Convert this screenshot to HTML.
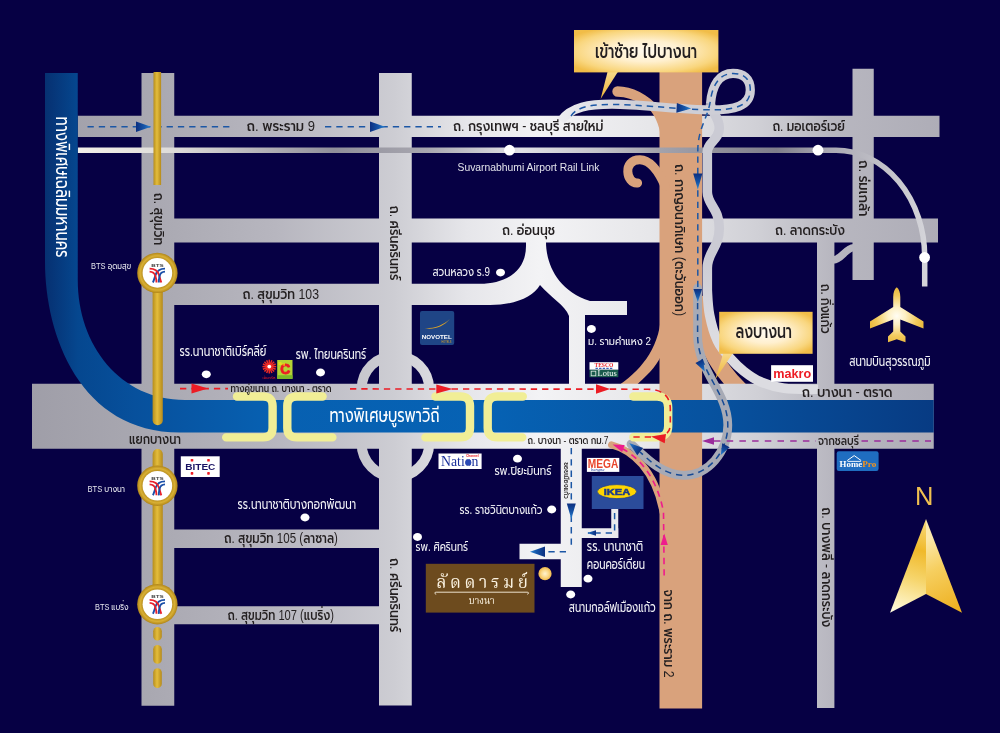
<!DOCTYPE html>
<html lang="th">
<head>
<meta charset="utf-8">
<title>แผนที่ ลัดดารมย์ บางนา</title>
<style>
html,body{margin:0;padding:0;background:#060044;}
body{width:1000px;height:733px;overflow:hidden;}
svg{display:block;will-change:transform;}
</style>
</head>
<body>
<svg width="1000" height="733" viewBox="0 0 1000 733">
<defs>
<linearGradient id="silver" x1="30" y1="0" x2="940" y2="0" gradientUnits="userSpaceOnUse">
<stop offset="0" stop-color="#9f9ea8"/><stop offset="0.13" stop-color="#a9a8b1"/><stop offset="0.27" stop-color="#b7b6bf"/>
<stop offset="0.40" stop-color="#cdcdd3"/><stop offset="0.48" stop-color="#e6e6ea"/><stop offset="0.56" stop-color="#f3f3f5"/><stop offset="0.68" stop-color="#e7e7ea"/>
<stop offset="0.80" stop-color="#d0d0d6"/><stop offset="0.88" stop-color="#b8b7c0"/><stop offset="1" stop-color="#aeadb7"/>
</linearGradient>
<linearGradient id="rail" x1="78" y1="0" x2="930" y2="0" gradientUnits="userSpaceOnUse">
<stop offset="0" stop-color="#f2efe8"/><stop offset="0.12" stop-color="#dcdad8"/><stop offset="0.30" stop-color="#908f9a"/>
<stop offset="0.41" stop-color="#a8a7b0"/><stop offset="0.52" stop-color="#e2e2e6"/><stop offset="0.61" stop-color="#c4c4ca"/><stop offset="0.68" stop-color="#a4a3ac"/>
<stop offset="0.82" stop-color="#7f7e8a"/><stop offset="0.88" stop-color="#a9a8b2"/><stop offset="1" stop-color="#d6d6db"/>
</linearGradient>
<linearGradient id="blueH" x1="45" y1="0" x2="934" y2="0" gradientUnits="userSpaceOnUse">
<stop offset="0" stop-color="#063071"/><stop offset="0.037" stop-color="#05478f"/><stop offset="0.1" stop-color="#07509c"/>
<stop offset="0.25" stop-color="#0760b1"/><stop offset="0.5" stop-color="#0662b4"/><stop offset="0.75" stop-color="#07529f"/><stop offset="1" stop-color="#073b83"/>
</linearGradient>
<linearGradient id="gold" x1="0" y1="0" x2="1" y2="0">
<stop offset="0" stop-color="#b68d1d"/><stop offset="0.45" stop-color="#e4bd3c"/><stop offset="1" stop-color="#b58a1b"/>
</linearGradient>
<radialGradient id="goldring" cx="0.5" cy="0.5" r="0.5">
<stop offset="0.70" stop-color="#b48a1c"/><stop offset="0.85" stop-color="#d9b034"/><stop offset="1" stop-color="#b08519"/>
</radialGradient>
<radialGradient id="callout" cx="0.5" cy="0.5" r="0.62">
<stop offset="0" stop-color="#fffaf0"/><stop offset="0.4" stop-color="#fff0cf"/><stop offset="0.8" stop-color="#f9d67e"/><stop offset="1" stop-color="#f1bd48"/>
</radialGradient>
<linearGradient id="pointer" x1="0" y1="0" x2="0" y2="1">
<stop offset="0" stop-color="#f8d98a"/><stop offset="1" stop-color="#eeb437"/>
</linearGradient>
<radialGradient id="plane" cx="896.7" cy="316" r="29" gradientUnits="userSpaceOnUse">
<stop offset="0" stop-color="#fffdf4"/><stop offset="0.3" stop-color="#fdf0c4"/><stop offset="0.7" stop-color="#f2ca5c"/><stop offset="1" stop-color="#e9b73a"/>
</radialGradient>
<linearGradient id="nleft" x1="926" y1="519" x2="896" y2="612" gradientUnits="userSpaceOnUse">
<stop offset="0" stop-color="#f8dc80"/><stop offset="0.32" stop-color="#f0b92a"/><stop offset="0.62" stop-color="#f6d56c"/><stop offset="1" stop-color="#fffbdc"/>
</linearGradient>
<linearGradient id="nright" x1="924" y1="540" x2="958" y2="610" gradientUnits="userSpaceOnUse">
<stop offset="0" stop-color="#fce9ac"/><stop offset="0.4" stop-color="#f6cf60"/><stop offset="1" stop-color="#eeb020"/>
</linearGradient>
<linearGradient id="arr" x1="0" y1="0" x2="1" y2="0">
<stop offset="0" stop-color="#0c2f80"/><stop offset="0.55" stop-color="#1555a8"/><stop offset="1" stop-color="#2b86d6"/>
</linearGradient>
<linearGradient id="rampg" x1="560" y1="0" x2="640" y2="0" gradientUnits="userSpaceOnUse">
<stop offset="0" stop-color="#ececf0"/><stop offset="1" stop-color="#ceced6"/>
</linearGradient>
<linearGradient id="serp" x1="0" y1="255" x2="0" y2="335" gradientUnits="userSpaceOnUse">
<stop offset="0" stop-color="#cbcbd4"/><stop offset="1" stop-color="#dcdce1"/>
</linearGradient>
<radialGradient id="glowdot" cx="0.5" cy="0.5" r="0.5">
<stop offset="0" stop-color="#fff3d0"/><stop offset="0.55" stop-color="#fbd98a"/><stop offset="1" stop-color="#f0b84a"/>
</radialGradient>
</defs>
<rect x="0" y="0" width="1000" height="733" fill="#060044"/>

<path d="M661,316 C659,350 639,372 616.5,387 L634.5,387 C646,376 655.5,368 661,356 Z" fill="#d9a27c"/>
<path d="M697.5,296 C699,335 715.5,366 741,390.5" fill="none" stroke="#d9a27c" stroke-width="16"/>
<g fill="url(#silver)">
<rect x="141.5" y="73" width="32.75" height="632.75"/>
<rect x="379" y="73" width="32.75" height="632.50"/>
<rect x="77.75" y="115.75" width="861.75" height="21.25"/>
<rect x="174" y="218.5" width="764.00" height="24.00"/>
<rect x="32" y="383.75" width="901.75" height="65.00"/>
<rect x="174" y="529.5" width="205.50" height="18.50"/>
<rect x="174" y="606.25" width="205.50" height="18.00"/>
<rect x="852.5" y="68.75" width="21.25" height="211.25"/>
<rect x="817" y="242" width="17.40" height="466.00"/>
<rect x="560.75" y="448" width="21.00" height="139.00"/>
<rect x="519.5" y="543.75" width="42.00" height="15.50"/>
<rect x="581" y="528.25" width="37.25" height="9.75"/>
<rect x="611.25" y="509" width="7.00" height="29.00"/>
<path d="M174,283.75 L480,283.75 C505,283.75 526,272 526,246 L526,242 L546,242 C546,262 556,290 590,301 L627,301 L627,315 L585,315 L585,384 L569,384 L569,316 C565,305 550,297 540,285 C533,297 515,305 490,305 L174,305 Z"/>
</g>
<rect x="361.6" y="355.4" width="67.6" height="121.6" rx="33.8" ry="33.8" fill="none" stroke="url(#silver)" stroke-width="10"/>
<path d="M833,260 C842,259.5 845,248.2 854,247.6" fill="none" stroke="url(#silver)" stroke-width="7.4"/>
<rect x="659.5" y="60" width="42.6" height="648.5" fill="#d9a27c"/>
<g fill="none" stroke="#d9a27c" stroke-linecap="round">
<path d="M617.5,86.3 C632,86.5 648,94 660.5,109 L660.5,134 C657.5,119 652,109 641,103.5 C633,99.5 626,96.8 617.5,96.7 A5.2,5.2 0 0 1 617.5,86.3 Z" fill="#d9a27c" stroke="none"/>
<path d="M665,186 C658,170 650,160 640,159.7 C631,159.5 627.6,166 627.8,171.5 C628,178 632,183.6 637.6,183" stroke-width="9"/>
<path d="M611.5,444.8 C632,450 655,470 663,512" stroke-width="7"/>
</g>
<path d="M77.75,150.2 L836,150.2 A88.7,106.8 0 0 1 924.7,257 L924.7,286.5" fill="none" stroke="url(#rail)" stroke-width="5.5"/>
<path d="M45,73 L45,262 C45,335 80,432.5 180,432.5 L933.75,432.5 L933.75,400 L185,400 C120,400 77.75,345 77.75,280 L77.75,73 Z" fill="url(#blueH)"/>
<g fill="none" stroke-linecap="butt">
<path d="M710.5,104 C711,112 719.3,117 719.3,128 C719.3,140 707.3,142 707.3,152 L707.3,192 C707.3,205 719.3,208 719.3,228 C719.3,248 707.3,252 707.3,268 L707.3,290 C707.7,297.8 707.9,306.5 709.6,315 C711.3,323.5 714.1,333.8 717.5,341 C720.9,348.2 725.6,353.0 730,358 C734.4,363.0 738.8,367.3 743.8,371.2 C748.8,375.1 753.3,378.6 760,381.5 C766.7,384.4 774.3,387.0 784,388.3 C793.7,389.6 812.3,389.1 818,389.3" stroke="url(#serp)" stroke-width="9.6"/>
<path d="M561,121 C571,106.5 590,104.2 612,104.2 C640,104.2 668,108.6 706,109.8 C735,110.6 750.3,106 750.3,90 C750.3,78 743,73.3 733,73.3 C720,73.3 712,84 710.5,104" stroke="url(#rampg)" stroke-width="9.2"/>
<path d="M697.6,288 L697.6,335 C697.6,372 727.8,392 727.8,425 C727.8,452 708,475.3 684,475.3 C662,475.3 646,458 631,444" stroke="#a7aab5" stroke-width="8.8" stroke-linecap="round"/>
</g>
<g fill="none" stroke="#f1ee96" stroke-width="8.4" stroke-linecap="round" stroke-linejoin="round">
<path d="M237,396.5 L263,396.5 Q272.6,396.5 272.6,406 L272.6,428 Q272.6,437.4 263,437.4 L226.2,437.4"/>
<path d="M322.6,396.5 L297,396.5 Q287.3,396.5 287.3,406 L287.3,428 Q287.3,437.4 297,437.4 L332.4,437.4"/>
<path d="M435.5,396.5 L460.5,396.5 Q470,396.5 470,406 L470,428 Q470,437.4 460.5,437.4 L425.4,437.4"/>
<path d="M522.8,396.5 L497.4,396.5 Q487.7,396.5 487.7,406 L487.7,428 Q487.7,437.4 497.4,437.4 L522.3,437.4"/>
<path d="M633.4,396.5 L657,396.5 Q668.2,396.5 668.2,407.5 L668.2,426 Q668.2,437.2 657,437.2 L633.4,437.2"/>
</g>
<g fill="none" stroke="#1c57a5" stroke-width="1.5" stroke-dasharray="6.3 5">
<path d="M87.5,126.8 L232.5,126.8"/>
<path d="M325,126.8 L441,126.8"/>
<path d="M571,116 C577,107 590,104.4 612,104.4 C640,104.4 668,108.6 706,109.8 C735,110.6 750.3,106 750.3,90 C750.3,78 743,73.5 733,73.5 C720,73.5 713,84 710.5,100 C708,118 698,128 697.8,150 L697.8,300"/>
<path d="M697.6,303 L697.6,335 C697.6,372 727.8,392 727.8,425 C727.8,452 708,475.3 684,475.3 C664,475.3 650,461 640,452" stroke="#164a95"/>
<path d="M571.3,448 L571.3,546"/>
<path d="M566,551.8 L545,551.8"/>
<path d="M614.6,513 L614.6,533 L588,533"/>
</g>
<path transform="translate(151.0,126.8) rotate(0)" d="M0,0 L-15,-5.25 L-15.0,0 L-15,5.25 Z" fill="url(#arr)"/>
<path transform="translate(385.0,126.8) rotate(0)" d="M0,0 L-15,-5.25 L-15.0,0 L-15,5.25 Z" fill="url(#arr)"/>
<path transform="translate(691.2,108.6) rotate(3)" d="M0,0 L-14.6,-4.9 L-14.6,0 L-14.6,4.9 Z" fill="url(#arr)"/>
<path transform="translate(697.8,189.5) rotate(90)" d="M0,0 L-16,-4.6 L-16.0,0 L-16,4.6 Z" fill="url(#arr)"/>
<path transform="translate(697.8,302.0) rotate(90)" d="M0,0 L-13,-4.3 L-13.0,0 L-13,4.3 Z" fill="url(#arr)"/>
<path transform="translate(704.8,371.5) rotate(62)" d="M0,0 L-12,-4.25 L-12.0,0 L-12,4.25 Z" fill="url(#arr)"/>
<path transform="translate(720.8,455.0) rotate(118)" d="M0,0 L-11,-4.25 L-11.0,0 L-11,4.25 Z" fill="url(#arr)"/>
<path transform="translate(629.2,443.0) rotate(218)" d="M0,0 L-14,-4.75 L-14.0,0 L-14,4.75 Z" fill="url(#arr)"/>
<path transform="translate(571.3,519.0) rotate(90)" d="M0,0 L-15.5,-4.5 L-15.5,0 L-15.5,4.5 Z" fill="url(#arr)"/>
<path transform="translate(530.0,551.8) rotate(180)" d="M0,0 L-15,-5.25 L-15.0,0 L-15,5.25 Z" fill="url(#arr)"/>
<path transform="translate(587.0,533.0) rotate(180)" d="M0,0 L-9,-2.75 L-9.0,0 L-9,2.75 Z" fill="url(#arr)"/>
<g fill="none" stroke="#ec1c24" stroke-width="1.6" stroke-dasharray="6.3 5">
<path d="M180,388.6 L228,388.6"/>
<path d="M350,388.9 L648,389.2 Q670.3,390 670.3,409 L670.3,424 Q670.3,433 664,434.5"/>
<path d="M651,437 L633,437"/>
</g>
<path transform="translate(208.0,388.6) rotate(0)" d="M0,0 L-16.5,-5.0 L-16.5,0 L-16.5,5.0 Z" fill="#ec1c24"/>
<path transform="translate(452.7,389.0) rotate(0)" d="M0,0 L-16.4,-4.6 L-16.4,0 L-16.4,4.6 Z" fill="#ec1c24"/>
<path transform="translate(610.2,389.0) rotate(0)" d="M0,0 L-14.2,-4.75 L-14.2,0 L-14.2,4.75 Z" fill="#ec1c24"/>
<path transform="translate(651.0,436.6) rotate(188)" d="M0,0 L-14.5,-4.75 L-14.5,0 L-14.5,4.75 Z" fill="#ec1c24"/>
<g fill="none" stroke="#9a2c9c" stroke-width="1.7" stroke-dasharray="6.5 6.2">
<path d="M714,441 L816,441"/>
<path d="M861.5,441 L931,441"/>
</g>
<path transform="translate(702.0,441.0) rotate(180)" d="M0,0 L-12,-3.8 L-12.0,0 L-12,3.8 Z" fill="#9a2c9c"/>
<path d="M622,448.5 C640,458 657,478 663.5,512 L664.2,580" fill="none" stroke="#ee1c8c" stroke-width="1.6" stroke-dasharray="6.3 5"/>
<path transform="translate(612.6,444.6) rotate(200)" d="M0,0 L-11.5,-3.75 L-11.5,0 L-11.5,3.75 Z" fill="#ee1c8c"/>
<path transform="translate(664.2,533.5) rotate(270)" d="M0,0 L-11.5,-3.6 L-11.5,0 L-11.5,3.6 Z" fill="#ee1c8c"/>
<rect x="153.5" y="72" width="7.6" height="113" fill="url(#gold)"/>
<rect x="152.6" y="285" width="10.2" height="140.3" rx="5.1" fill="url(#gold)"/>
<rect x="152.6" y="449" width="10.2" height="145" rx="5.1" fill="url(#gold)"/>
<rect x="153.2" y="627" width="8.6" height="13.5" rx="4.3" fill="url(#gold)"/>
<rect x="153.2" y="645" width="8.6" height="18.8" rx="4.3" fill="url(#gold)"/>
<rect x="153.2" y="668.3" width="8.6" height="19.7" rx="4.3" fill="url(#gold)"/>
<g transform="translate(157.4,272.9)">
<circle r="20.2" fill="url(#goldring)"/>
<circle r="14.8" fill="#ffffff"/>
<text x="0" y="-6.2" text-anchor="middle" font-family="'Liberation Sans',sans-serif" font-size="4" font-weight="700" fill="#444" textLength="12.5" lengthAdjust="spacingAndGlyphs">BTS</text>
<g fill="none" stroke-width="1.9" stroke-linecap="butt">
<path d="M7.6,-4.3 Q0.2,-4.3 -1.8,2 T-4.5,9.6" stroke="#1b4fa8"/>
<path d="M-7.8,-4.3 Q-0.2,-4.3 1.6,2 T3.9,9.6" stroke="#e8212b"/>
<path d="M7.6,-1.3 Q3.2,-1.1 2.2,3 T1.5,9.6" stroke="#1b4fa8"/>
<path d="M-7.8,-1.3 Q-3.2,-1.1 -2,3 T-0.9,9.6" stroke="#e8212b"/>
</g></g>
<g transform="translate(157.4,485.7)">
<circle r="20.2" fill="url(#goldring)"/>
<circle r="14.8" fill="#ffffff"/>
<text x="0" y="-6.2" text-anchor="middle" font-family="'Liberation Sans',sans-serif" font-size="4" font-weight="700" fill="#444" textLength="12.5" lengthAdjust="spacingAndGlyphs">BTS</text>
<g fill="none" stroke-width="1.9" stroke-linecap="butt">
<path d="M7.6,-4.3 Q0.2,-4.3 -1.8,2 T-4.5,9.6" stroke="#1b4fa8"/>
<path d="M-7.8,-4.3 Q-0.2,-4.3 1.6,2 T3.9,9.6" stroke="#e8212b"/>
<path d="M7.6,-1.3 Q3.2,-1.1 2.2,3 T1.5,9.6" stroke="#1b4fa8"/>
<path d="M-7.8,-1.3 Q-3.2,-1.1 -2,3 T-0.9,9.6" stroke="#e8212b"/>
</g></g>
<g transform="translate(157.4,604.2)">
<circle r="20.2" fill="url(#goldring)"/>
<circle r="14.8" fill="#ffffff"/>
<text x="0" y="-6.2" text-anchor="middle" font-family="'Liberation Sans',sans-serif" font-size="4" font-weight="700" fill="#444" textLength="12.5" lengthAdjust="spacingAndGlyphs">BTS</text>
<g fill="none" stroke-width="1.9" stroke-linecap="butt">
<path d="M7.6,-4.3 Q0.2,-4.3 -1.8,2 T-4.5,9.6" stroke="#1b4fa8"/>
<path d="M-7.8,-4.3 Q-0.2,-4.3 1.6,2 T3.9,9.6" stroke="#e8212b"/>
<path d="M7.6,-1.3 Q3.2,-1.1 2.2,3 T1.5,9.6" stroke="#1b4fa8"/>
<path d="M-7.8,-1.3 Q-3.2,-1.1 -2,3 T-0.9,9.6" stroke="#e8212b"/>
</g></g>
<g fill="#ffffff">
<ellipse cx="206.3" cy="374.3" rx="4.5" ry="3.9"/>
<ellipse cx="320.5" cy="372.5" rx="4.5" ry="3.9"/>
<ellipse cx="500.5" cy="272.6" rx="4.5" ry="3.9"/>
<ellipse cx="591.4" cy="329" rx="4.5" ry="3.9"/>
<ellipse cx="305" cy="517.5" rx="4.5" ry="3.9"/>
<ellipse cx="417.5" cy="537" rx="4.5" ry="3.9"/>
<ellipse cx="517.5" cy="458.7" rx="4.5" ry="3.9"/>
<ellipse cx="551.7" cy="509.5" rx="4.5" ry="3.9"/>
<ellipse cx="588" cy="578.7" rx="4.5" ry="3.9"/>
<ellipse cx="570.7" cy="594.5" rx="4.5" ry="3.9"/>
<circle cx="509.5" cy="150.2" r="5.4"/>
<circle cx="818" cy="150.2" r="5.4"/>
<circle cx="924.6" cy="257.5" r="5.4"/>
</g>
<circle cx="545" cy="573.7" r="6.6" fill="url(#glowdot)"/>
<path d="M607.5,72 L617.8,72 L600.6,99 Z" fill="url(#pointer)"/>
<rect x="574" y="30" width="144.4" height="42.4" fill="url(#callout)"/>
<path d="M723.3,353.2 L732.8,353.2 L715.3,379.3 Z" fill="url(#pointer)"/>
<rect x="719.2" y="311.8" width="93.4" height="42" fill="url(#callout)"/>
<text x="595.0" y="57.5" font-family="'Liberation Sans','Prompt','Kanit','Noto Sans Thai','Loma',sans-serif" font-size="19" font-weight="500" fill="#231f20" textLength="102.0" lengthAdjust="spacingAndGlyphs">เข้าซ้าย ไปบางนา</text>
<text x="735.5" y="338.3" font-family="'Liberation Sans','Prompt','Kanit','Noto Sans Thai','Loma',sans-serif" font-size="19" font-weight="500" fill="#231f20" textLength="56.5" lengthAdjust="spacingAndGlyphs">ลงบางนา</text>
<path d="M896.75,287.3 C894.6,288.8 893.2,292.5 893.2,297 L893.2,307 L870,321.4 L870,328.4 L893.2,319.4 L893.2,331.4 L888,336.6 L888,342.2 L896.75,339.2 L905.5,342.2 L905.5,336.6 L900.3,331.4 L900.3,319.4 L923.5,328.4 L923.5,321.4 L900.3,307 L900.3,297 C900.3,292.5 898.9,288.8 896.75,287.3 Z" fill="url(#plane)"/>
<polygon points="926,519 890,612.8 926,594" fill="url(#nleft)"/>
<polygon points="926,519 962,612.8 926,594" fill="url(#nright)"/>
<text x="924.3" y="505" text-anchor="middle" font-family="'Liberation Sans',sans-serif" font-size="25.5" fill="#f0c050">N</text>
<rect x="425.8" y="563.8" width="108.7" height="48.8" fill="#6d4b1e"/>
<text x="436.3" y="588.4" font-family="'Liberation Serif','Noto Serif Thai','Trirong','Taviraj',serif" font-size="17" letter-spacing="3.6" fill="#fbf3e2">ลัดดารมย์</text>
<path d="M436.2,594.2 C434.2,593.8 434.4,592 436.2,592.2 L527.2,592.2 C529,592 529.2,593.8 527.2,594.2" fill="none" stroke="#fbf3e2" stroke-width="0.9"/>
<text x="468.8" y="603.6" font-family="'Liberation Serif','Noto Serif Thai','Trirong','Taviraj',serif" font-size="10" fill="#fbf3e2" textLength="25.8" lengthAdjust="spacingAndGlyphs">บางนา</text>
<rect x="420" y="311" width="34.2" height="34" rx="2" fill="#1f4586"/>
<path d="M424.4,328.2 C434,328.6 443,325.5 449.8,319 C443.5,326.8 434,330 424.4,328.2 Z" fill="#e0a526"/>
<text x="421.8" y="339.3" font-family="'Liberation Sans',sans-serif" font-size="5.6" font-weight="700" fill="#ffffff" textLength="30" lengthAdjust="spacingAndGlyphs">NOVOTEL</text>
<text x="441.5" y="342.8" font-family="'Liberation Sans',sans-serif" font-size="2.6" fill="#e0a526" textLength="10" lengthAdjust="spacingAndGlyphs">HOTELS</text>
<g transform="translate(269.3,366.6)" fill="#ef2b24">
<rect x="-0.75" y="-6.9" width="1.5" height="4.6" transform="rotate(0.0)"/>
<rect x="-0.75" y="-6.9" width="1.5" height="4.6" transform="rotate(22.5)"/>
<rect x="-0.75" y="-6.9" width="1.5" height="4.6" transform="rotate(45.0)"/>
<rect x="-0.75" y="-6.9" width="1.5" height="4.6" transform="rotate(67.5)"/>
<rect x="-0.75" y="-6.9" width="1.5" height="4.6" transform="rotate(90.0)"/>
<rect x="-0.75" y="-6.9" width="1.5" height="4.6" transform="rotate(112.5)"/>
<rect x="-0.75" y="-6.9" width="1.5" height="4.6" transform="rotate(135.0)"/>
<rect x="-0.75" y="-6.9" width="1.5" height="4.6" transform="rotate(157.5)"/>
<rect x="-0.75" y="-6.9" width="1.5" height="4.6" transform="rotate(180.0)"/>
<rect x="-0.75" y="-6.9" width="1.5" height="4.6" transform="rotate(202.5)"/>
<rect x="-0.75" y="-6.9" width="1.5" height="4.6" transform="rotate(225.0)"/>
<rect x="-0.75" y="-6.9" width="1.5" height="4.6" transform="rotate(247.5)"/>
<rect x="-0.75" y="-6.9" width="1.5" height="4.6" transform="rotate(270.0)"/>
<rect x="-0.75" y="-6.9" width="1.5" height="4.6" transform="rotate(292.5)"/>
<rect x="-0.75" y="-6.9" width="1.5" height="4.6" transform="rotate(315.0)"/>
<rect x="-0.75" y="-6.9" width="1.5" height="4.6" transform="rotate(337.5)"/>
<circle r="3.6"/><circle r="1.9" fill="#ffffff"/></g>
<text x="262.6" y="378.6" font-family="'Liberation Sans','Prompt','Kanit','Noto Sans Thai','Loma',sans-serif" font-size="3.4" fill="#ed1c24" textLength="12.8" lengthAdjust="spacingAndGlyphs">เซ็นทรัล</text>
<rect x="277.2" y="360" width="15.3" height="18.8" fill="#b4d334"/>
<rect x="277.2" y="375.2" width="15.3" height="3.6" fill="#7ab829"/>
<text x="280.2" y="374.3" font-family="'Liberation Sans',sans-serif" font-size="14" font-weight="700" fill="#ed1c24" stroke="#ed1c24" stroke-width="0.9" textLength="10" lengthAdjust="spacingAndGlyphs">C</text>
<text x="278.4" y="364.6" font-family="'Liberation Sans',sans-serif" font-size="4" font-weight="700" fill="#f7e017" textLength="6.5" lengthAdjust="spacingAndGlyphs">Big</text>
<rect x="180.8" y="456.3" width="38.9" height="20.7" fill="#ffffff"/>
<text x="185.2" y="470.2" font-family="'Liberation Sans',sans-serif" font-size="8.6" font-weight="700" fill="#1b1464" textLength="30.2" lengthAdjust="spacingAndGlyphs">BITEC</text>
<rect x="190.7" y="459.0" width="2.6" height="2.6" rx="0.6" fill="#ed1c24"/>
<rect x="207.2" y="459.0" width="2.6" height="2.6" rx="0.6" fill="#ed1c24"/>
<rect x="190.7" y="472.09999999999997" width="2.6" height="2.6" rx="0.6" fill="#ed1c24"/>
<rect x="207.2" y="472.09999999999997" width="2.6" height="2.6" rx="0.6" fill="#ed1c24"/>
<rect x="438.5" y="453.5" width="43.1" height="15.5" fill="#ffffff"/>
<text x="441" y="465.6" font-family="'Liberation Serif',serif" font-size="14" fill="#1a2f9a" textLength="37.5" lengthAdjust="spacingAndGlyphs">Nation</text>
<circle cx="468.4" cy="462.4" r="2.9" fill="#2a49b5"/>
<text x="466" y="457.4" font-family="'Liberation Sans',sans-serif" font-size="3" font-weight="700" fill="#e8222b" textLength="12.6" lengthAdjust="spacingAndGlyphs">Channel</text>
<rect x="589.5" y="362.2" width="28.8" height="7.6" fill="#ffffff"/>
<rect x="589.5" y="369.8" width="28.8" height="7.4" fill="#1b5b4d"/>
<text x="594.4" y="366.9" font-family="'Liberation Serif',serif" font-size="5.2" font-weight="700" fill="#e8222b" textLength="19" lengthAdjust="spacingAndGlyphs">TESCO</text>
<path d="M595.5,368.4 L613,368.4" stroke="#3b5fb5" stroke-width="1.2" stroke-dasharray="2.4 1.2" fill="none"/>
<rect x="591.2" y="371.2" width="4.6" height="4.6" fill="none" stroke="#dfe9e4" stroke-width="0.8"/>
<text x="597.6" y="376.2" font-family="'Liberation Serif',serif" font-size="7.6" fill="#ffffff" textLength="19.2" lengthAdjust="spacingAndGlyphs">Lotus</text>
<rect x="771.1" y="365.2" width="41.9" height="16.6" fill="#ffffff"/>
<text x="773.2" y="378" font-family="'Liberation Sans',sans-serif" font-size="13.4" font-weight="700" fill="#ed1c24" textLength="38" lengthAdjust="spacingAndGlyphs">makro</text>
<rect x="586.9" y="457.9" width="32.4" height="14" fill="#ffffff"/>
<text x="587.8" y="468.2" font-family="'Liberation Sans',sans-serif" font-size="13.4" font-weight="700" fill="#e8452c" textLength="30.5" lengthAdjust="spacingAndGlyphs">MEGA</text>
<text x="591" y="471" font-family="'Liberation Serif',serif" font-size="3.6" font-style="italic" fill="#2b4aa0" textLength="13.5" lengthAdjust="spacingAndGlyphs">bangna</text>
<rect x="591.8" y="476" width="51.7" height="33" fill="#2b4c9b"/>
<ellipse cx="616.9" cy="491.6" rx="19.6" ry="7" fill="#ffd500" stroke="#1d3c8c" stroke-width="0.7"/>
<text x="603.8" y="494.6" font-family="'Liberation Sans',sans-serif" font-size="8.4" font-weight="700" fill="#1d3c8c" stroke="#1d3c8c" stroke-width="0.5" textLength="26.4" lengthAdjust="spacingAndGlyphs">IKEA</text>
<rect x="836.7" y="451.2" width="41.9" height="19.8" rx="2.2" fill="#1f6dc0"/>
<path d="M847.2,460.6 L854.2,455.6 L861.2,460.6" fill="none" stroke="#ffffff" stroke-width="1"/>
<path d="M847.6,461.4 L860.8,461.4" fill="none" stroke="#ffffff" stroke-width="0.9"/>
<text x="839.6" y="467" font-family="'Liberation Serif',serif" font-size="7.4" font-weight="700" fill="#ffffff" textLength="22.6" lengthAdjust="spacingAndGlyphs">Home</text>
<text x="862.3" y="467" font-family="'Liberation Serif',serif" font-size="7.4" font-weight="700" fill="#f7941d" textLength="14" lengthAdjust="spacingAndGlyphs">Pro</text>
<text x="246.5" y="130.9" font-family="'Liberation Sans','Prompt','Kanit','Noto Sans Thai','Loma',sans-serif" font-size="15" font-weight="500" fill="#231f20" textLength="68.5" lengthAdjust="spacingAndGlyphs">ถ. พระราม 9</text>
<text x="453.0" y="130.9" font-family="'Liberation Sans','Prompt','Kanit','Noto Sans Thai','Loma',sans-serif" font-size="15" font-weight="500" fill="#231f20" textLength="150.5" lengthAdjust="spacingAndGlyphs">ถ. กรุงเทพฯ - ชลบุรี สายใหม่</text>
<text x="772.4" y="130.9" font-family="'Liberation Sans','Prompt','Kanit','Noto Sans Thai','Loma',sans-serif" font-size="15" font-weight="500" fill="#231f20" textLength="72.6" lengthAdjust="spacingAndGlyphs">ถ. มอเตอร์เวย์</text>
<text x="502.0" y="235.1" font-family="'Liberation Sans','Prompt','Kanit','Noto Sans Thai','Loma',sans-serif" font-size="15" font-weight="500" fill="#231f20" textLength="53.0" lengthAdjust="spacingAndGlyphs">ถ. อ่อนนุช</text>
<text x="775.0" y="235.1" font-family="'Liberation Sans','Prompt','Kanit','Noto Sans Thai','Loma',sans-serif" font-size="15" font-weight="500" fill="#231f20" textLength="70.0" lengthAdjust="spacingAndGlyphs">ถ. ลาดกระบัง</text>
<text x="242.5" y="298.9" font-family="'Liberation Sans','Prompt','Kanit','Noto Sans Thai','Loma',sans-serif" font-size="15" font-weight="500" fill="#231f20" textLength="76.5" lengthAdjust="spacingAndGlyphs">ถ. สุขุมวิท 103</text>
<text x="224.1" y="543.1" font-family="'Liberation Sans','Prompt','Kanit','Noto Sans Thai','Loma',sans-serif" font-size="14.5" font-weight="500" fill="#231f20" textLength="113.8" lengthAdjust="spacingAndGlyphs">ถ. สุขุมวิท 105 (ลาซาล)</text>
<text x="227.5" y="619.6" font-family="'Liberation Sans','Prompt','Kanit','Noto Sans Thai','Loma',sans-serif" font-size="14.5" font-weight="500" fill="#231f20" textLength="106.5" lengthAdjust="spacingAndGlyphs">ถ. สุขุมวิท 107 (แบริ่ง)</text>
<text x="801.8" y="396.7" font-family="'Liberation Sans','Prompt','Kanit','Noto Sans Thai','Loma',sans-serif" font-size="15" font-weight="500" fill="#231f20" textLength="90.7" lengthAdjust="spacingAndGlyphs">ถ. บางนา - ตราด</text>
<text x="818.0" y="444.8" font-family="'Liberation Sans','Prompt','Kanit','Noto Sans Thai','Loma',sans-serif" font-size="12.5" font-weight="500" fill="#231f20" textLength="41.0" lengthAdjust="spacingAndGlyphs">จากชลบุรี</text>
<text x="129.0" y="444.0" font-family="'Liberation Sans','Prompt','Kanit','Noto Sans Thai','Loma',sans-serif" font-size="14.5" font-weight="500" fill="#231f20" textLength="52.0" lengthAdjust="spacingAndGlyphs">แยกบางนา</text>
<text x="230.4" y="391.8" font-family="'Liberation Sans','Prompt','Kanit','Noto Sans Thai','Loma',sans-serif" font-size="11.5" font-weight="500" fill="#231f20" textLength="101.0" lengthAdjust="spacingAndGlyphs">ทางคู่ขนาน ถ. บางนา - ตราด</text>
<text x="527.6" y="444.1" font-family="'Liberation Sans','Prompt','Kanit','Noto Sans Thai','Loma',sans-serif" font-size="11.5" font-weight="500" fill="#231f20" textLength="81.0" lengthAdjust="spacingAndGlyphs">ถ. บางนา - ตราด กม.7</text>
<text transform="translate(153.7,192.8) rotate(90)" font-family="'Liberation Sans','Prompt','Kanit','Noto Sans Thai','Loma',sans-serif" font-size="15" font-weight="500" fill="#231f20" textLength="52.5" lengthAdjust="spacingAndGlyphs">ถ. สุขุมวิท</text>
<text transform="translate(390.4,205.5) rotate(90)" font-family="'Liberation Sans','Prompt','Kanit','Noto Sans Thai','Loma',sans-serif" font-size="14" font-weight="500" fill="#231f20" textLength="75.0" lengthAdjust="spacingAndGlyphs">ถ. ศรีนครินทร์</text>
<text transform="translate(390.4,558.0) rotate(90)" font-family="'Liberation Sans','Prompt','Kanit','Noto Sans Thai','Loma',sans-serif" font-size="14" font-weight="500" fill="#231f20" textLength="74.2" lengthAdjust="spacingAndGlyphs">ถ. ศรีนครินทร์</text>
<text transform="translate(675.1,164.0) rotate(90)" font-family="'Liberation Sans','Prompt','Kanit','Noto Sans Thai','Loma',sans-serif" font-size="14.5" font-weight="500" fill="#231f20" textLength="152.0" lengthAdjust="spacingAndGlyphs">ถ. กาญจนาภิเษก (ตะวันออก)</text>
<text transform="translate(858.9,160.0) rotate(90)" font-family="'Liberation Sans','Prompt','Kanit','Noto Sans Thai','Loma',sans-serif" font-size="14.5" font-weight="500" fill="#231f20" textLength="56.5" lengthAdjust="spacingAndGlyphs">ถ. ร่มเกล้า</text>
<text transform="translate(821.2,283.8) rotate(90)" font-family="'Liberation Sans','Prompt','Kanit','Noto Sans Thai','Loma',sans-serif" font-size="14.5" font-weight="500" fill="#231f20" textLength="50.0" lengthAdjust="spacingAndGlyphs">ถ. กิ่งแก้ว</text>
<text transform="translate(821.6,507.3) rotate(90)" font-family="'Liberation Sans','Prompt','Kanit','Noto Sans Thai','Loma',sans-serif" font-size="14.5" font-weight="500" fill="#231f20" textLength="120.0" lengthAdjust="spacingAndGlyphs">ถ. บางพลี - ลาดกระบัง</text>
<text transform="translate(664.0,589.5) rotate(90)" font-family="'Liberation Sans','Prompt','Kanit','Noto Sans Thai','Loma',sans-serif" font-size="14.5" font-weight="500" fill="#231f20" textLength="88.0" lengthAdjust="spacingAndGlyphs">จาก ถ. พระราม 2</text>
<text transform="translate(564.1,462.3) rotate(90)" font-family="'Liberation Sans','Prompt','Kanit','Noto Sans Thai','Loma',sans-serif" font-size="7" font-weight="500" fill="#231f20" textLength="36.5" lengthAdjust="spacingAndGlyphs">ซอยเมืองแก้ว</text>
<text transform="translate(55.6,116.5) rotate(90)" font-family="'Liberation Sans','Prompt','Kanit','Noto Sans Thai','Loma',sans-serif" font-size="20" font-weight="400" fill="#ffffff" textLength="141.0" lengthAdjust="spacingAndGlyphs">ทางพิเศษเฉลิมมหานคร</text>
<text x="329.5" y="421.9" font-family="'Liberation Sans','Prompt','Kanit','Noto Sans Thai','Loma',sans-serif" font-size="19" font-weight="400" fill="#ffffff" textLength="110.0" lengthAdjust="spacingAndGlyphs">ทางพิเศษบูรพาวิถี</text>
<text x="179.4" y="355.9" font-family="'Liberation Sans','Prompt','Kanit','Noto Sans Thai','Loma',sans-serif" font-size="13.5" font-weight="400" fill="#f4f4f8" textLength="87.0" lengthAdjust="spacingAndGlyphs">รร.นานาชาติเบิร์คลีย์</text>
<text x="295.7" y="359.4" font-family="'Liberation Sans','Prompt','Kanit','Noto Sans Thai','Loma',sans-serif" font-size="13.5" font-weight="400" fill="#f4f4f8" textLength="70.5" lengthAdjust="spacingAndGlyphs">รพ. ไทยนครินทร์</text>
<text x="432.5" y="276.4" font-family="'Liberation Sans','Prompt','Kanit','Noto Sans Thai','Loma',sans-serif" font-size="12.5" font-weight="400" fill="#f4f4f8" textLength="57.5" lengthAdjust="spacingAndGlyphs">สวนหลวง ร.9</text>
<text x="588.0" y="344.6" font-family="'Liberation Sans','Prompt','Kanit','Noto Sans Thai','Loma',sans-serif" font-size="11.5" font-weight="400" fill="#f4f4f8" textLength="63.0" lengthAdjust="spacingAndGlyphs">ม. รามคำแหง 2</text>
<text x="237.5" y="508.7" font-family="'Liberation Sans','Prompt','Kanit','Noto Sans Thai','Loma',sans-serif" font-size="13.5" font-weight="400" fill="#f4f4f8" textLength="118.5" lengthAdjust="spacingAndGlyphs">รร.นานาชาติบางกอกพัฒนา</text>
<text x="415.5" y="550.8" font-family="'Liberation Sans','Prompt','Kanit','Noto Sans Thai','Loma',sans-serif" font-size="12" font-weight="400" fill="#f4f4f8" textLength="52.5" lengthAdjust="spacingAndGlyphs">รพ. ศิครินทร์</text>
<text x="459.5" y="513.6" font-family="'Liberation Sans','Prompt','Kanit','Noto Sans Thai','Loma',sans-serif" font-size="12" font-weight="400" fill="#f4f4f8" textLength="83.0" lengthAdjust="spacingAndGlyphs">รร. ราชวินิตบางแก้ว</text>
<text x="494.4" y="475.4" font-family="'Liberation Sans','Prompt','Kanit','Noto Sans Thai','Loma',sans-serif" font-size="12.5" font-weight="400" fill="#f4f4f8" textLength="57.0" lengthAdjust="spacingAndGlyphs">รพ.ปิยะมินทร์</text>
<text x="586.8" y="551.2" font-family="'Liberation Sans','Prompt','Kanit','Noto Sans Thai','Loma',sans-serif" font-size="13.5" font-weight="400" fill="#f4f4f8" textLength="56.3" lengthAdjust="spacingAndGlyphs">รร. นานาชาติ</text>
<text x="586.8" y="569.2" font-family="'Liberation Sans','Prompt','Kanit','Noto Sans Thai','Loma',sans-serif" font-size="13.5" font-weight="400" fill="#f4f4f8" textLength="58.3" lengthAdjust="spacingAndGlyphs">คอนคอร์เดียน</text>
<text x="568.8" y="611.6" font-family="'Liberation Sans','Prompt','Kanit','Noto Sans Thai','Loma',sans-serif" font-size="13.5" font-weight="400" fill="#f4f4f8" textLength="86.8" lengthAdjust="spacingAndGlyphs">สนามกอล์ฟเมืองแก้ว</text>
<text x="849.2" y="365.9" font-family="'Liberation Sans','Prompt','Kanit','Noto Sans Thai','Loma',sans-serif" font-size="13.5" font-weight="400" fill="#f4f4f8" textLength="81.3" lengthAdjust="spacingAndGlyphs">สนามบินสุวรรณภูมิ</text>
<text x="457.5" y="170.5" font-family="'Liberation Sans','Prompt','Kanit','Noto Sans Thai','Loma',sans-serif" font-size="10.3" font-weight="400" fill="#e4e4ec" textLength="142.0" lengthAdjust="spacingAndGlyphs">Suvarnabhumi Airport Rail Link</text>
<text x="91.0" y="268.8" font-family="'Liberation Sans','Prompt','Kanit','Noto Sans Thai','Loma',sans-serif" font-size="9.3" font-weight="400" fill="#e4e4ec" textLength="40.0" lengthAdjust="spacingAndGlyphs">BTS อุดมสุข</text>
<text x="87.5" y="492.2" font-family="'Liberation Sans','Prompt','Kanit','Noto Sans Thai','Loma',sans-serif" font-size="9.3" font-weight="400" fill="#e4e4ec" textLength="37.5" lengthAdjust="spacingAndGlyphs">BTS บางนา</text>
<text x="95.0" y="609.6" font-family="'Liberation Sans','Prompt','Kanit','Noto Sans Thai','Loma',sans-serif" font-size="9.3" font-weight="400" fill="#e4e4ec" textLength="33.5" lengthAdjust="spacingAndGlyphs">BTS แบริ่ง</text>
</svg>
</body>
</html>
